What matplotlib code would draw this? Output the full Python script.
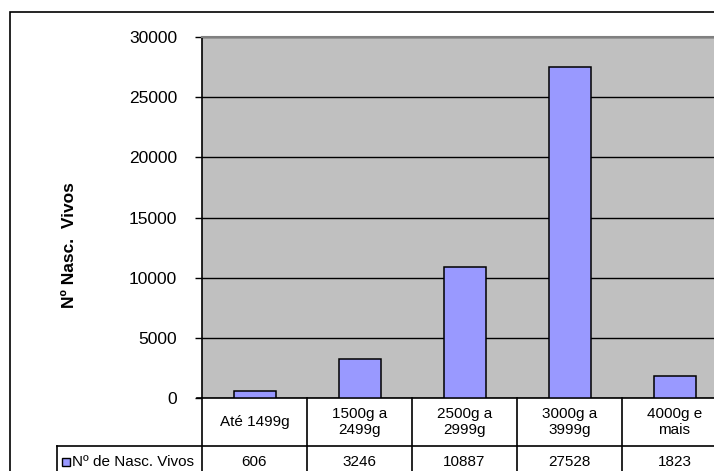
import matplotlib
matplotlib.use("Agg")
import matplotlib.pyplot as plt
from matplotlib.patches import Rectangle

plt.rcParams['font.family'] = ['Liberation Sans', 'DejaVu Sans']

categories = ["Até 1499g", "1500g a\n2499g", "2500g a\n2999g", "3000g a\n3999g", "4000g e\nmais"]
nascidos_vivos = [606, 3246, 10887, 27528, 1823]
series_name = "Nº de Nasc. Vivos"
y_label = "Nº Nasc.  Vivos"
y_ticks = [0, 5000, 10000, 15000, 20000, 25000, 30000]

W, H = 714, 471
fig = plt.figure(figsize=(W / 100, H / 100), dpi=100)
fig.patch.set_facecolor('white')

def fx(px):
    return px / W

def fy(py):
    return 1 - py / H

# plot area (pixel layout)
left, right, top, bottom = 202, 727, 37, 398
ax = fig.add_axes([fx(left), fy(bottom), fx(right - left), (bottom - top) / H])
ax.set_facecolor('#C0C0C0')

x = list(range(len(categories)))
ax.bar(x, nascidos_vivos, width=0.4, color='#9999FF', edgecolor='black',
       linewidth=1.1, zorder=3)

ax.set_xlim(-0.5, len(categories) - 0.5)
ax.set_ylim(0, 30000)
ax.set_yticks(y_ticks)
ax.set_yticklabels([str(t) for t in y_ticks], fontsize=12.5)
ax.tick_params(axis='y', direction='out', length=5, width=1, pad=13, colors='black')
ax.set_xticks([])
ax.yaxis.grid(True, color='black', linewidth=1.0, zorder=1)
ax.set_axisbelow(True)
for s in ('top', 'right'):
    ax.spines[s].set_color('#808080')
    ax.spines[s].set_linewidth(1.5)
ax.spines['left'].set_color('black')
ax.spines['bottom'].set_color('black')
ax.spines['left'].set_linewidth(1.2)
ax.spines['bottom'].set_linewidth(1.2)

# data table below the plot
ax_h = bottom - top
px_per_cat = (right - left) / len(categories)
row1 = -(446 - bottom) / ax_h
row2 = -(479 - bottom) / ax_h
key_left = -0.5 - (left - 57) / px_per_cat
tr = ax.get_xaxis_transform()
lw = 1.2
for i in range(len(categories) + 1):
    ax.plot([i - 0.5, i - 0.5], [0, row2], color='black', lw=lw, transform=tr, clip_on=False)
ax.plot([key_left, len(categories) - 0.5], [row1, row1], color='black', lw=lw,
        transform=tr, clip_on=False)
ax.plot([key_left, len(categories) - 0.5], [row2, row2], color='black', lw=lw,
        transform=tr, clip_on=False)
ax.plot([key_left, key_left], [row1, row2], color='black', lw=lw, transform=tr, clip_on=False)
# short tick at the left end of the zero line
ax.plot([-0.5 - 5 / px_per_cat, -0.5], [0, 0], color='black', lw=lw, transform=tr, clip_on=False)

cat_y = row1 / 2
val_y = -(462 - bottom) / ax_h
for i, (c, v) in enumerate(zip(categories, nascidos_vivos)):
    ax.text(i, cat_y, c, transform=tr, ha='center', va='center', fontsize=11,
            linespacing=1.25, clip_on=False)
    ax.text(i, val_y, str(v), transform=tr, ha='center', va='center', fontsize=11,
            clip_on=False)

# legend key in the table
fig.patches.append(Rectangle((fx(62), fy(466)), fx(8), 8 / H, transform=fig.transFigure,
                             facecolor='#9999FF', edgecolor='black', linewidth=1.0))
fig.text(fx(72), fy(462), series_name, ha='left', va='center', fontsize=11)

# y axis title
fig.text(fx(70), fy(245), y_label, rotation=90, ha='center', va='center',
         fontsize=12.5, fontweight='bold')

# chart border
fig.patches.append(Rectangle((fx(10), -0.2), 1.2, fy(12) + 0.2, transform=fig.transFigure,
                             fill=False, edgecolor='black', linewidth=1.2))

fig.savefig('out.png', dpi=100)
